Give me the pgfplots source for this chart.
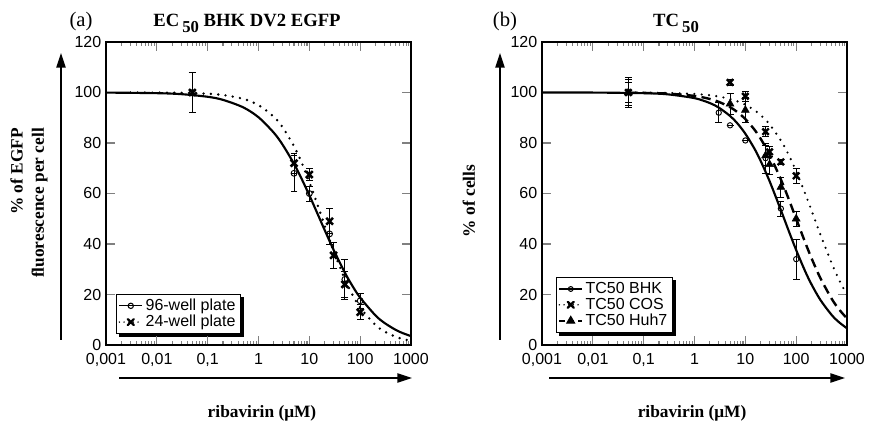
\documentclass[border=0pt]{standalone}
\usepackage{pgfplots}
\pgfplotsset{compat=1.18}
\usepackage{pgfplotstable}
\usepackage{fontspec}
\setmainfont{Liberation Serif}
\newfontfamily\arial{Liberation Sans}
\usetikzlibrary{arrows.meta,backgrounds}

% ---- left panel data: x, y, error ----
\pgfplotstableread{
x y e
0.05 100 8
5 68 7
10 60 3
25 44 4
50 26 8
100 17.5 3
}\nineSix
\pgfplotstableread{
x y e
0.05 100 8
5 72 4
10 67.5 2.5
25 49 5
30 35.5 5
50 24 5
100 13 3
}\twoFour
% ---- right panel data ----
\pgfplotstableread{
x y e
0.05 100 5
3 92 4
5 87 0
10 81 0
25 74 6
50 54 3
100 34 8
}\bhkdata
\pgfplotstableread{
x y e
0.05 100 6
5 104 1
10 98.5 2
25 84.5 2
30 76.5 2
50 72.5 1
100 67 3
}\cosdata
\pgfplotstableread{
x y e
0.05 100 4
5 95.5 4
10 93 5
25 75 4
30 71.5 4
50 62.5 4
100 50 3
}\huhdata

\begin{document}
\begin{tikzpicture}
\useasboundingbox (0,0) rectangle (653.25pt,317.25pt);

% ================= left panel =================
\begin{semilogxaxis}[
  at={(79.5pt,58.5pt)}, anchor=south west,
  scale only axis, width=228.75pt, height=227.25pt,
  xmin=0.001, xmax=1000, ymin=0, ymax=120,
  xtick={0.001,0.01,0.1,1,10,100,1000},
  xticklabels={{0,001},{0,01},{0,1},1,10,100,1000},
  ytick={0,20,40,60,80,100,120},
  minor xtick={}, major tick length=7pt, tick align=inside,
  axis line style={line width=0.8pt},
  tick style={line width=0.8pt},
  ticklabel style={font=\arial\fontsize{12}{14}\selectfont},
  xticklabel style={yshift=-3pt},
  yticklabel={\pgfmathprintnumber[assume math mode=true]{\tick}},
  clip=false,
  legend cell align=left,
  legend style={name=legA, at={(0.033,0.036)}, anchor=south west,
    font=\arial\fontsize{12}{13}\selectfont, draw=black, line width=0.8pt,
    fill=white, inner sep=1.5pt, row sep=-2pt}]
\addlegendimage{black, line width=0.8pt, mark=o, mark size=2pt, mark options={solid, fill=white}}
\addlegendentry{96-well plate}
\addlegendimage{black, line width=1.2pt, line cap=round, dash pattern=on 0pt off 3.5pt, mark=x, mark size=3.2pt, mark options={solid, line width=1.7pt}}
\addlegendentry{24-well plate}
% fits
\addplot[black, line width=1.6pt, smooth, forget plot] coordinates {
(0.001,99.96) (0.01,99.73) (0.03,99.35) (0.1,98.30) (0.2,97.08) (0.5,94.12)
(1,90.19) (2,84.07) (3,79.23) (5,71.74) (7,65.95) (10,59.29) (15,51.29)
(20,45.55) (30,37.69) (50,28.67) (70,23.49) (100,18.75) (200,11.71)
(300,8.75) (500,5.99) (700,4.64) (1000,3.53)};
\addplot[black, line width=2pt, line cap=round, dash pattern=on 0pt off 5.5pt, smooth, forget plot] coordinates {
(0.003,99.99) (0.01,99.95) (0.03,99.85) (0.1,99.50) (0.2,99.0) (0.5,97.48)
(1,95.02) (2,90.38) (3,86.15) (5,78.69) (7,72.38) (10,64.56) (15,54.63)
(20,47.31) (30,37.26) (50,26.07) (70,20.02) (100,14.82) (200,7.90)
(300,5.37) (500,3.26) (700,2.33) (1000,1.63)};
% points
\addplot[black, forget plot, only marks, mark=o, mark size=2.2pt, mark options={line width=0.7pt, fill=white},
  error bars/.cd, y dir=both, y explicit, error bar style={line width=0.6pt}, error mark options={line width=0.6pt, mark size=2.6pt, rotate=90}]
  table[x=x, y=y, y error=e] {\nineSix};
\addplot[black, forget plot, only marks, mark=x, mark size=3.6pt, mark options={line width=1.9pt},
  error bars/.cd, y dir=both, y explicit, error bar style={line width=0.6pt}, error mark options={line width=0.6pt, mark size=2.6pt, rotate=90}]
  table[x=x, y=y, y error=e] {\twoFour};
\end{semilogxaxis}

% ================= right panel =================
\begin{semilogxaxis}[
  at={(406.5pt,58.5pt)}, anchor=south west,
  scale only axis, width=228.75pt, height=227.25pt,
  xmin=0.001, xmax=1000, ymin=0, ymax=120,
  xtick={0.001,0.01,0.1,1,10,100,1000},
  xticklabels={{0,001},{0,01},{0,1},1,10,100,1000},
  ytick={0,20,40,60,80,100,120},
  minor xtick={}, major tick length=7pt, tick align=inside,
  axis line style={line width=0.8pt},
  tick style={line width=0.8pt},
  ticklabel style={font=\arial\fontsize{12}{14}\selectfont},
  xticklabel style={yshift=-3pt},
  yticklabel={\pgfmathprintnumber[assume math mode=true]{\tick}},
  clip=false,
  legend cell align=left,
  legend style={name=legB, at={(0.046,0.04)}, anchor=south west,
    font=\arial\fontsize{12}{13}\selectfont, draw=black, line width=0.8pt,
    fill=white, inner sep=1.5pt, row sep=-2pt}]
\addlegendimage{black, line width=0.8pt, mark=o, mark size=1.8pt, mark options={solid, fill=white}}
\addlegendentry{TC50 BHK}
\addlegendimage{black, line width=1.2pt, line cap=round, dash pattern=on 0pt off 3.5pt, mark=x, mark size=3.2pt, mark options={solid, line width=1.7pt}}
\addlegendentry{TC50 COS}
\addlegendimage{black, line width=1pt, dash pattern=on 4pt off 3pt, mark=triangle*, mark size=3.2pt, mark options={solid}}
\addlegendentry{TC50 Huh7}
% fits
\addplot[black, line width=1.6pt, smooth, forget plot] coordinates {
(0.001,100.0) (0.01,99.97) (0.1,99.73) (0.3,99.26) (1,97.76) (2,95.82)
(3,94.02) (5,90.72) (7,87.73) (10,83.68) (15,77.87) (20,72.91) (30,64.87)
(50,53.44) (70,45.64) (100,37.60) (150,29.24) (200,24.03) (300,17.82)
(500,11.88) (700,8.98) (1000,6.61)};
\addplot[black, line width=1.8pt, dash pattern=on 7pt off 4pt, smooth, forget plot] coordinates {
(0.05,99.92) (0.1,99.84) (0.3,99.55) (1,98.64) (2,97.44) (3,96.31) (5,94.19)
(7,92.22) (10,89.49) (15,85.38) (20,81.71) (30,75.39) (50,65.58) (70,58.22)
(100,50.0) (150,40.68) (200,34.42) (300,26.47) (500,18.29) (700,14.07) (1000,10.51)};
\addplot[black, line width=1.8pt, line cap=round, dash pattern=on 0pt off 5.5pt, smooth, forget plot] coordinates {
(0.05,99.97) (0.1,99.94) (0.3,99.82) (1,99.43) (2,98.91) (3,98.40) (5,97.43)
(7,96.50) (10,95.16) (15,93.04) (20,91.05) (30,87.38) (50,81.00) (70,75.59)
(100,68.81) (150,60.02) (200,53.31) (300,43.72) (500,32.35) (700,25.78) (1000,19.84)};
% points
\addplot[black, forget plot, only marks, mark=o, mark size=2pt, mark options={line width=0.7pt, fill=white},
  error bars/.cd, y dir=both, y explicit, error bar style={line width=0.6pt}, error mark options={line width=0.6pt, mark size=2.6pt, rotate=90}]
  table[x=x, y=y, y error=e] {\bhkdata};
\addplot[black, forget plot, only marks, mark=x, mark size=3.4pt, mark options={line width=1.8pt},
  error bars/.cd, y dir=both, y explicit, error bar style={line width=0.6pt}, error mark options={line width=0.6pt, mark size=2.6pt, rotate=90}]
  table[x=x, y=y, y error=e] {\cosdata};
\addplot[black, forget plot, only marks, mark=triangle*, mark size=3.4pt,
  error bars/.cd, y dir=both, y explicit, error bar style={line width=0.6pt}, error mark options={line width=0.6pt, mark size=2.6pt, rotate=90}]
  table[x=x, y=y, y error=e] {\huhdata};
\end{semilogxaxis}

% legend shadows
\begin{pgfonlayer}{background}
\fill[black] ([shift={(2.2pt,-2.2pt)}]legA.south west) rectangle ([shift={(2.2pt,-2.2pt)}]legA.north east);
\fill[black] ([shift={(2.2pt,-2.2pt)}]legB.south west) rectangle ([shift={(2.2pt,-2.2pt)}]legB.north east);
\end{pgfonlayer}

% ================= annotations (px units) =================
\begin{scope}[x=0.75pt, y=0.75pt]
% titles
\node[anchor=base, font=\fontsize{15.5}{17}\selectfont] at (81,396) {(a)};
\node[anchor=base, font=\bfseries\fontsize{14}{16}\selectfont] at (247,396) {EC\,\raisebox{-4pt}{\fontsize{12.5}{13}\selectfont 50}\ BHK DV2 EGFP};
\node[anchor=base, font=\fontsize{15.5}{17}\selectfont] at (505,396) {(b)};
\node[anchor=base, font=\bfseries\fontsize{14}{16}\selectfont] at (676,396) {TC\,\raisebox{-4pt}{\fontsize{12.5}{13}\selectfont 50}};
% y arrows
\draw[line width=1pt, -{Triangle[length=11pt,width=7pt]}] (61,83) -- (61,370);
\draw[line width=1pt, -{Triangle[length=11pt,width=7pt]}] (500,83) -- (500,370);
% y labels
\node[rotate=90, align=right, font=\bfseries\fontsize{13}{15}\selectfont, inner sep=0pt] at (29,220) {\% of EGFP\\[1pt] fluorescence per cell};
\node[rotate=90, font=\bfseries\fontsize{13}{15}\selectfont, inner sep=0pt] at (469,222) {\% of cells};
% x arrows
\draw[line width=1pt, -{Triangle[length=11pt,width=7pt]}] (119,45) -- (412,45);
\draw[line width=1pt, -{Triangle[length=11pt,width=7pt]}] (549,45) -- (845,45);
% x labels
\node[font=\bfseries\fontsize{13}{15}\selectfont] at (262,10) {ribavirin (μM)};
\node[font=\bfseries\fontsize{13}{15}\selectfont] at (692,10) {ribavirin (μM)};
\end{scope}
\end{tikzpicture}
\end{document}
